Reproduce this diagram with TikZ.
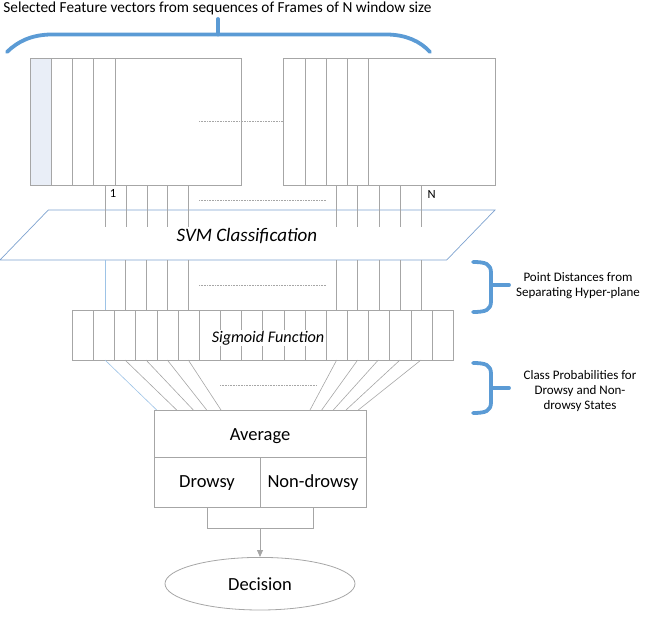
\documentclass[tikz,border=0pt]{standalone}
\usepackage{fontspec}
\setmainfont{Carlito}
\usetikzlibrary{arrows.meta,shapes.geometric}
\definecolor{framegray}{HTML}{A6A6A6}
\definecolor{colfill}{HTML}{E9EEF7}
\definecolor{parablue}{HTML}{7EA2CF}
\definecolor{braceblue}{HTML}{5B9BD5}
\definecolor{lineblue}{HTML}{9DC3E6}
\begin{document}
\begin{tikzpicture}[x=1pt,y=-1pt,
  frame/.style={draw=framegray,line width=0.8pt},
  thinline/.style={draw=framegray,line width=0.6pt},
  dotline/.style={draw=framegray,line width=0.6pt,dash pattern=on 0.8pt off 0.8pt},
  brace/.style={draw=braceblue,line width=3.8pt,line cap=round,line join=round},
  para/.style={draw=parablue,line width=0.7pt},
  lbl/.style={inner sep=0pt,font=\fontsize{18.5}{22}\selectfont},
  small/.style={inner sep=0pt,font=\fontsize{13}{15}\selectfont,align=center}]
\useasboundingbox (0,0) rectangle (645,629);

% title
\node[inner sep=0pt,font=\fontsize{15.3}{18}\selectfont,anchor=base] (title) at (217.5,12.5) {Selected Feature vectors from sequences of Frames of N window size};

% top brace
\draw[brace] (7,52) .. controls (18,41) and (32,35) .. (50,34.5) -- (388,34.5) .. controls (406,35) and (420,41) .. (430,52);
\draw[brace] (218,34.5) -- (218,19);

% left frame
\fill[colfill] (30,58.3) rectangle (51.7,185);
\draw[frame] (30,58.3) rectangle (241.7,185);
\foreach \x in {51.7,72.7,93.7,115} \draw[frame] (\x,58.3) -- (\x,185);
% right frame
\draw[frame] (283.3,58.3) rectangle (495.7,185);
\foreach \x in {305,326,347.3,368.7} \draw[frame] (\x,58.3) -- (\x,185);
\draw[dotline] (199,121.7) -- (283.3,121.7);

% SVM parallelogram
\draw[para] (48.3,210) -- (495,210) -- (446.7,260) -- (0,260) -- cycle;
\node[lbl,font=\fontsize{19}{22}\selectfont\itshape] (svm) at (247,236) {SVM Classification};

% lines frames -> SVM
\foreach \x in {105,126.5,147.5,167.5,188.3,336.7,357.7,379,400,421.7}
  \draw[thinline] (\x,185) -- (\x,227);
\node[inner sep=0pt,font=\fontsize{12.5}{14}\selectfont] (one) at (113,193.5) {1};
\node[inner sep=0pt,font=\fontsize{12.5}{14}\selectfont] (enn) at (431.7,194) {N};
\draw[dotline] (199,200.7) -- (326.7,200.7);

% lines SVM -> sigmoid
\draw[draw=lineblue,line width=0.6pt] (105,260) -- (105,310.7);
\foreach \x in {125.7,146.7,167.3,188.3,336.7,357.7,379,400,421.7}
  \draw[thinline] (\x,260) -- (\x,310.7);
\draw[dotline] (199,285) -- (326.7,285);

% sigmoid box
\draw[frame] (72.3,310.7) rectangle (453.3,360);
\foreach \k in {1,...,17} \draw[frame] (72.3+21.17*\k,310.7) -- (72.3+21.17*\k,360);
\node[lbl,font=\fontsize{16.2}{18}\selectfont\itshape,fill=white,inner sep=1pt] (sig) at (268,338) {Sigmoid Function};

% average box
\draw[frame] (154,410) rectangle (366,507.3);
\draw[frame] (154,457.3) -- (366,457.3);
\draw[frame] (260,457.3) -- (260,507.3);
\node[lbl] (avg) at (260,436) {Average};
\node[lbl] (drowsy) at (207,483) {Drowsy};
\node[lbl] (nondrowsy) at (313,483) {Non-drowsy};

% fan lines sigmoid -> average
\draw[draw=lineblue,line width=0.6pt] (105,360) -- (156.7,410);
\draw[thinline] (125,360) -- (176.7,410);
\draw[thinline] (146,360) -- (193.3,410);
\draw[thinline] (167.3,360) -- (206.7,410);
\draw[thinline] (188.3,360) -- (221,410);
\draw[thinline] (336.7,360) -- (310,410);
\draw[thinline] (357.7,360) -- (321.7,410);
\draw[thinline] (378.3,360) -- (333.3,410);
\draw[thinline] (400,360) -- (346,410);
\draw[thinline] (421,360) -- (358.3,410);
\draw[dotline] (220,385) -- (316.7,385);

% decision
\node[draw=framegray,line width=0.8pt,ellipse,minimum width=190pt,minimum height=52.6pt,inner sep=0pt,font=\fontsize{18.5}{22}\selectfont] (dec) at (260,583.7) {Decision};
\coordinate (join) at (260,528.3);
\draw[frame] (207.7,507.3) -- (207.7,528.3) -- (313.3,528.3) -- (313.3,507.3);
\draw[frame,-{Triangle[length=7pt,width=6pt]},fill=framegray] (join) -- (dec.north);

% right braces
\draw[brace] (473,262) .. controls (486,262) and (491,264) .. (491,273) -- (491,301) .. controls (491,310) and (486,312) .. (473,312);
\draw[brace] (491,285) -- (509,285);
\draw[brace] (473,363) .. controls (486,363) and (491,365) .. (491,374) -- (491,402) .. controls (491,411) and (486,413) .. (473,413);
\draw[brace] (491,388) -- (509,388);
\node[small] (pd) at (578,286) {Point Distances from\\Separating Hyper-plane};
\node[small] (cp) at (580,391.5) {Class Probabilities for\\Drowsy and Non-\\drowsy States};
\end{tikzpicture}
\end{document}
